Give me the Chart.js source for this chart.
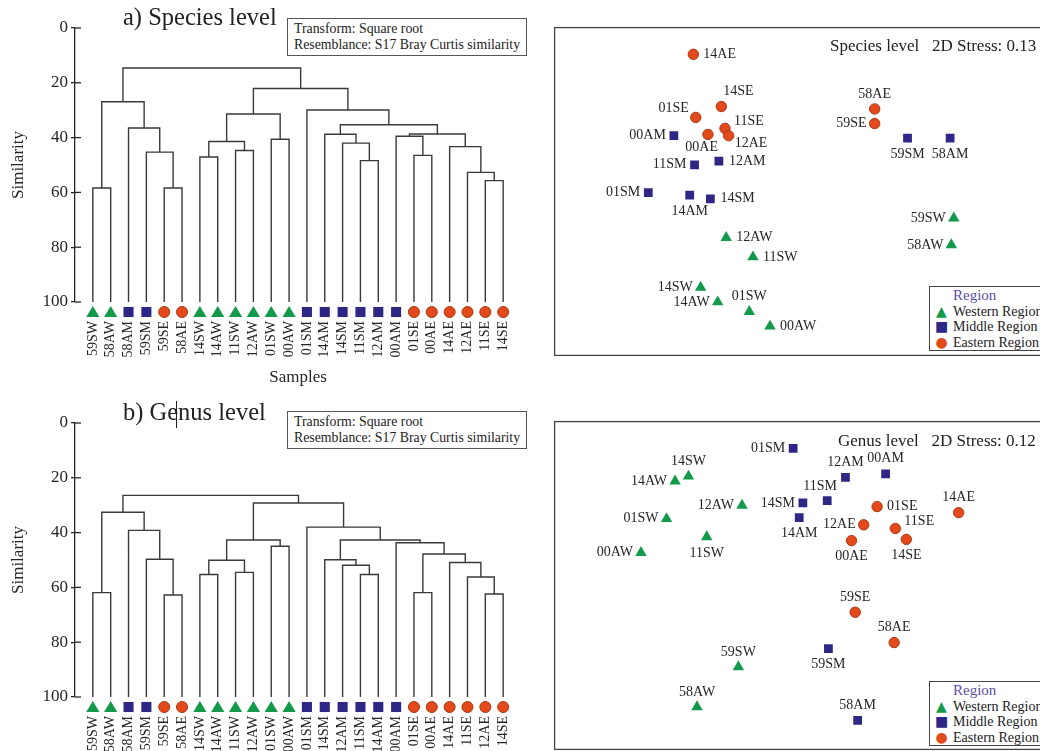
<!DOCTYPE html>
<html>
<head>
<meta charset="utf-8">
<script src="https://cdn.jsdelivr.net/npm/chart.js@4.4.0/dist/chart.umd.min.js"></script>
<style>
body { margin: 0; width: 1040px; height: 751px; overflow: hidden; background: #fff; position: relative;
       font-family: "Liberation Serif", "DejaVu Serif", serif; color: #222; }
canvas { position: absolute; }
.title { position: absolute; font-size: 24.5px; line-height: 24px; white-space: nowrap; }
.cursor { position: absolute; width: 1px; background: #222; }
.note { position: absolute; width: 226px; height: 32px; border: 1px solid #555; padding: 2px 6px;
        font-size: 13.8px; line-height: 16px; white-space: nowrap; background: #fff; }
.stress { position: absolute; font-size: 17px; line-height: 17px; white-space: nowrap; }
.legend { position: absolute; left: 929px; width: 130px; height: 62px; padding-top: 1px; border: 1px solid #444;
          background: #fff; font-size: 14px; line-height: 15.5px; white-space: nowrap; overflow: hidden; }
.legend .hd { color: #5b4fa0; padding-left: 23px; font-size: 15px; }
.legend .mk { display: inline-block; width: 23px; text-align: center; font-family: "DejaVu Sans", sans-serif; font-size: 14px; }
</style>
</head>
<body>
<canvas id="dendA" width="540" height="392" style="left:0;top:0"></canvas>
<canvas id="dendB" width="540" height="392" style="left:0;top:395px"></canvas>
<canvas id="mdsA" width="500" height="341" style="left:548px;top:21px"></canvas>
<canvas id="mdsB" width="500" height="341" style="left:548px;top:415px"></canvas>

<div class="title" style="left:123px;top:5px">a) Species level</div>
<div class="title" style="left:123px;top:400px">b) Genus level</div>
<div class="cursor" style="left:176px;top:401px;height:27px"></div>
<div class="note" style="left:287px;top:18px">Transform: Square root<br>Resemblance: S17 Bray Curtis similarity</div>
<div class="note" style="left:287px;top:411px">Transform: Square root<br>Resemblance: S17 Bray Curtis similarity</div>
<div class="stress" style="left:830px;top:37px">Species level&nbsp;&nbsp; 2D Stress: 0.13</div>
<div class="stress" style="left:838px;top:432px">Genus level&nbsp;&nbsp; 2D Stress: 0.12</div>
<div class="legend" style="top:286px">
  <div class="hd">Region</div>
  <div><span class="mk" style="color:#12994a">&#9650;</span>Western Region</div>
  <div><span class="mk" style="color:#2e2785">&#9632;</span>Middle Region</div>
  <div><span class="mk" style="color:#e4491c">&#9679;</span>Eastern Region</div>
</div>
<div class="legend" style="top:681px">
  <div class="hd">Region</div>
  <div><span class="mk" style="color:#12994a">&#9650;</span>Western Region</div>
  <div><span class="mk" style="color:#2e2785">&#9632;</span>Middle Region</div>
  <div><span class="mk" style="color:#e4491c">&#9679;</span>Eastern Region</div>
</div>

<script>
// ---- dendrogram data (leaf order + merges: [left, right, similarity]) ----
const leavesSpecies = ['59SW', '58AW', '58AM', '59SM', '59SE', '58AE', '14SW', '14AW', '11SW', '12AW', '01SW', '00AW',
                       '01SM', '14AM', '14SM', '11SM', '12AM', '00AM', '01SE', '00AE', '14AE', '12AE', '11SE', '14SE'];
const mergesSpecies = [
    ['59SW', '58AW', 58.4], ['59SE', '58AE', 58.4], ['59SM', 'm1', 45.3], ['58AM', 'm2', 36.5], ['m0', 'm3', 26.9],
    ['14SW', '14AW', 47.1], ['11SW', '12AW', 44.7], ['m5', 'm6', 41.4], ['01SW', '00AW', 40.6], ['m7', 'm8', 31.4],
    ['11SM', '12AM', 48.4], ['14SM', 'm10', 42.0], ['14AM', 'm11', 38.8], ['01SE', '00AE', 46.5], ['00AM', 'm13', 39.5],
    ['11SE', '14SE', 55.7], ['12AE', 'm15', 52.7], ['14AE', 'm16', 43.3], ['m14', 'm17', 38.7], ['m12', 'm18', 35.3],
    ['01SM', 'm19', 29.9], ['m9', 'm20', 22.1], ['m4', 'm21', 14.6]
];
const leavesGenus = ['59SW', '58AW', '58AM', '59SM', '59SE', '58AE', '14SW', '14AW', '11SW', '12AW', '01SW', '00AW',
                     '01SM', '14SM', '12AM', '11SM', '14AM', '00AM', '01SE', '00AE', '14AE', '11SE', '12AE', '14SE'];
const mergesGenus = [
    ['59SW', '58AW', 61.9], ['59SE', '58AE', 62.8], ['59SM', 'm1', 49.7], ['58AM', 'm2', 39.2], ['m0', 'm3', 32.6],
    ['14SW', '14AW', 55.3], ['11SW', '12AW', 54.5], ['m5', 'm6', 50.1], ['01SW', '00AW', 45.0], ['m7', 'm8', 42.7],
    ['11SM', '14AM', 55.3], ['12AM', 'm10', 51.9], ['14SM', 'm11', 49.9], ['01SE', '00AE', 61.9], ['12AE', '14SE', 62.4],
    ['11SE', 'm14', 56.2], ['14AE', 'm15', 50.9], ['m13', 'm16', 47.8], ['00AM', 'm17', 43.7], ['m12', 'm18', 42.7],
    ['01SM', 'm19', 38.0], ['m9', 'm20', 29.2], ['m4', 'm21', 26.4]
];
const similarityTicks = [0, 20, 40, 60, 80, 100];

// ---- nMDS ordinations: [sample, MDS1, MDS2] ----
const speciesWest = [['12AW', -0.59, -0.38], ['11SW', -0.37, -0.54], ['14SW', -0.80, -0.79], ['14AW', -0.66, -0.91],
                     ['01SW', -0.40, -0.99], ['00AW', -0.23, -1.11], ['59SW', 1.28, -0.22], ['58AW', 1.26, -0.44]];
const speciesMiddle = [['00AM', -1.02, 0.46], ['11SM', -0.85, 0.22], ['12AM', -0.65, 0.25], ['01SM', -1.23, -0.01],
                       ['14AM', -0.89, -0.03], ['14SM', -0.72, -0.06], ['59SM', 0.90, 0.44], ['58AM', 1.25, 0.44]];
const speciesEast = [['14AE', -0.86, 1.13], ['14SE', -0.63, 0.70], ['01SE', -0.84, 0.61], ['00AE', -0.74, 0.47],
                     ['11SE', -0.60, 0.52], ['12AE', -0.57, 0.46], ['58AE', 0.63, 0.68], ['59SE', 0.63, 0.56]];
const genusWest = [['14SW', -0.90, 0.90], ['14AW', -1.01, 0.86], ['12AW', -0.46, 0.66], ['01SW', -1.08, 0.55],
                   ['11SW', -0.75, 0.40], ['00AW', -1.29, 0.27], ['59SW', -0.49, -0.67], ['58AW', -0.83, -1.00]];
const genusMiddle = [['01SM', -0.04, 1.13], ['12AM', 0.39, 0.89], ['00AM', 0.72, 0.92], ['11SM', 0.24, 0.70],
                     ['14SM', 0.04, 0.68], ['14AM', 0.01, 0.56], ['59SM', 0.25, -0.52], ['58AM', 0.49, -1.11]];
const genusEast = [['01SE', 0.65, 0.65], ['14AE', 1.32, 0.60], ['12AE', 0.54, 0.50], ['11SE', 0.80, 0.47],
                   ['00AE', 0.44, 0.37], ['14SE', 0.89, 0.38], ['59SE', 0.47, -0.22], ['58AE', 0.79, -0.47]];

// label placement around each point (style only)
const labelSideSpecies = {
    '14AE': 'r', '14SE': 'tr', '01SE': 'tl', '11SE': 'ru', '12AE': 'br', '00AE': 'bl', '58AE': 't', '59SE': 'l',
    '00AM': 'l', '11SM': 'l', '12AM': 'r', '01SM': 'l', '14AM': 'b', '14SM': 'r', '59SM': 'b', '58AM': 'b',
    '12AW': 'r', '11SW': 'r', '14SW': 'l', '14AW': 'l', '01SW': 't', '00AW': 'r', '59SW': 'l', '58AW': 'l'
};
const labelSideGenus = {
    '14SW': 't', '14AW': 'l', '12AW': 'l', '01SW': 'l', '11SW': 'b', '00AW': 'l', '59SW': 't', '58AW': 't',
    '01SM': 'l', '12AM': 't', '00AM': 't', '11SM': 'tc', '14SM': 'l', '14AM': 'b', '59SM': 'b', '58AM': 't',
    '01SE': 'r', '14AE': 't', '12AE': 'l', '11SE': 'ru', '00AE': 'b', '14SE': 'b', '59SE': 't', '58AE': 't'
};

const GREEN = '#12994a', PURPLE = '#2e2785', ORANGE = '#e4491c', ORANGE_EDGE = '#a83a14', INK = '#262626';
const SIDES = {
    r: [10, 0, 'left'], l: [-8, 0, 'right'], t: [0, -15, 'center'], b: [0, 16, 'center'],
    tl: [-7, -9, 'right'], tr: [2, -15, 'left'], ru: [9, -7, 'left'], br: [6, 8, 'left'],
    bl: [10, 13, 'right'], tc: [-7, -14, 'center']
};

Chart.defaults.font.family = "'Liberation Serif', 'DejaVu Serif', serif";
Chart.defaults.color = INK;

function regionOf(name) {
    return name.slice(-1);
}

function drawMark(ctx, region, x, y, s) {
    ctx.beginPath();
    if (region === 'W') {
        ctx.fillStyle = GREEN;
        ctx.moveTo(x, y - s * 0.5);
        ctx.lineTo(x + s * 0.55, y + s * 0.42);
        ctx.lineTo(x - s * 0.55, y + s * 0.42);
        ctx.closePath();
        ctx.fill();
    } else if (region === 'M') {
        ctx.fillStyle = PURPLE;
        ctx.fillRect(x - s * 0.42, y - s * 0.42, s * 0.84, s * 0.84);
    } else {
        ctx.fillStyle = ORANGE;
        ctx.strokeStyle = ORANGE_EDGE;
        ctx.lineWidth = 1;
        ctx.arc(x, y, s * 0.46, 0, Math.PI * 2);
        ctx.fill();
        ctx.stroke();
    }
}

// turn the merge table into bracket lines, in data units
function dendroSets(leaves, merges) {
    const pos = {};
    leaves.forEach((n, i) => pos[n] = { x: i, h: 100 });
    return merges.map((m, k) => {
        const a = pos[m[0]], b = pos[m[1]], h = m[2];
        pos['m' + k] = { x: (a.x + b.x) / 2, h: h };
        return {
            data: [{ x: a.x, y: a.h }, { x: a.x, y: h }, { x: b.x, y: h }, { x: b.x, y: b.h }],
            showLine: true, borderColor: '#3a3a3a', borderWidth: 1.4, pointRadius: 0,
            tension: 0, fill: false, borderJoinStyle: 'miter'
        };
    });
}

const leafMarks = {
    id: 'leafMarks',
    afterDatasetsDraw(chart, args, opts) {
        const ctx = chart.ctx, x = chart.scales.x, y = chart.scales.y, left = chart.chartArea.left;
        ctx.save();
        ctx.strokeStyle = INK;
        ctx.lineWidth = 1.3;
        y.ticks.forEach(t => {
            const py = y.getPixelForValue(t.value);
            ctx.beginPath();
            ctx.moveTo(left, py);
            ctx.lineTo(left + 6, py);
            ctx.stroke();
        });
        opts.leaves.forEach((name, i) => {
            drawMark(ctx, regionOf(name), x.getPixelForValue(i), y.getPixelForValue(100) + 10, 12);
        });
        ctx.restore();
    }
};

function makeDendrogram(id, leaves, merges, showXTitle) {
    new Chart(document.getElementById(id), {
        type: 'scatter',
        data: { datasets: dendroSets(leaves, merges) },
        plugins: [leafMarks],
        options: {
            responsive: false,
            animation: false,
            events: [],
            layout: { padding: { left: 5, right: 19, top: 28, bottom: 0 } },
            plugins: { legend: { display: false }, tooltip: { enabled: false }, leafMarks: { leaves: leaves } },
            scales: {
                x: {
                    type: 'linear', min: -1, max: 24,
                    afterBuildTicks: s => { s.ticks = leaves.map((l, i) => ({ value: i })); },
                    afterFit: s => { s.height = 90; },
                    grid: { display: false, drawTicks: false },
                    border: { display: false },
                    ticks: {
                        autoSkip: false, minRotation: 90, maxRotation: 90, padding: 19,
                        font: { size: 14 }, color: INK,
                        callback: v => leaves[v]
                    },
                    title: { display: showXTitle, text: 'Samples', font: { size: 17 }, color: INK }
                },
                y: {
                    reverse: true, min: 0, max: 100,
                    afterBuildTicks: s => { s.ticks = similarityTicks.map(v => ({ value: v })); },
                    afterFit: s => { s.width = 70; },
                    grid: { drawOnChartArea: false, drawTicks: true, tickLength: 4, color: INK, lineWidth: 1.3 },
                    border: { display: true, color: INK, width: 1.3 },
                    ticks: { font: { size: 17 }, color: INK, padding: 3 },
                    title: { display: true, text: 'Similarity', font: { size: 17 }, color: INK, padding: 3 }
                }
            }
        }
    });
}

const mdsLabels = {
    id: 'mdsLabels',
    afterDatasetsDraw(chart, args, opts) {
        const ctx = chart.ctx, a = chart.chartArea;
        ctx.save();
        ctx.strokeStyle = '#444';
        ctx.lineWidth = 1.3;
        ctx.strokeRect(a.left, a.top, a.right - a.left, a.bottom - a.top);
        ctx.font = "14px 'Liberation Serif', serif";
        ctx.fillStyle = INK;
        ctx.textBaseline = 'middle';
        chart.data.datasets.forEach((ds, di) => {
            chart.getDatasetMeta(di).data.forEach((pt, i) => {
                const name = ds.data[i].name;
                const s = SIDES[opts.sides[name] || 'r'];
                ctx.textAlign = s[2];
                ctx.fillText(name, pt.x + s[0], pt.y + s[1]);
            });
        });
        ctx.restore();
    }
};

function pts(list) {
    return list.map(p => ({ x: p[1], y: p[2], name: p[0] }));
}

function makeMds(id, west, middle, east, sides) {
    new Chart(document.getElementById(id), {
        type: 'scatter',
        data: {
            datasets: [
                { label: 'Western Region', data: pts(west), pointStyle: 'triangle', pointRadius: 6.6,
                  backgroundColor: GREEN, borderColor: GREEN, borderWidth: 0 },
                { label: 'Middle Region', data: pts(middle), pointStyle: 'rect', pointRadius: 6.2,
                  backgroundColor: PURPLE, borderColor: PURPLE, borderWidth: 0 },
                { label: 'Eastern Region', data: pts(east), pointStyle: 'circle', pointRadius: 5.2,
                  backgroundColor: ORANGE, borderColor: ORANGE_EDGE, borderWidth: 1 }
            ]
        },
        plugins: [mdsLabels],
        options: {
            responsive: false,
            animation: false,
            events: [],
            layout: { padding: 6 },
            plugins: { legend: { display: false }, tooltip: { enabled: false }, mdsLabels: { sides: sides } },
            scales: {
                x: { type: 'linear', display: false, min: -2, max: 2 },
                y: { type: 'linear', display: false, min: -1.35, max: 1.35 }
            }
        }
    });
}

makeDendrogram('dendA', leavesSpecies, mergesSpecies, true);
makeDendrogram('dendB', leavesGenus, mergesGenus, false);
makeMds('mdsA', speciesWest, speciesMiddle, speciesEast, labelSideSpecies);
makeMds('mdsB', genusWest, genusMiddle, genusEast, labelSideGenus);
</script>
</body>
</html>
